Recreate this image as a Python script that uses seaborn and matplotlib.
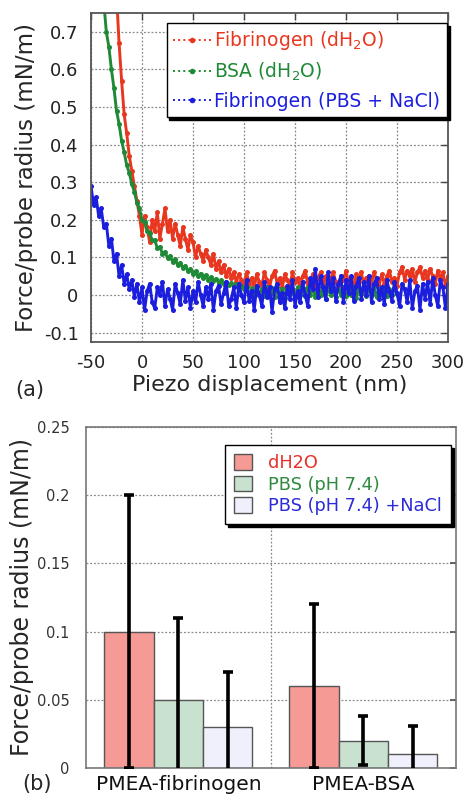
import numpy as np
import pandas as pd
import matplotlib
matplotlib.use("Agg")
import matplotlib.pyplot as plt
from matplotlib.ticker import MultipleLocator, FixedLocator, FuncFormatter
import seaborn as sns

# ---- (a) force curves (x step 2.5 nm) ----
step = 2.5

fib_water_y = [
    0.80, 0.67, 0.57, 0.48, 0.43, 0.37, 0.33, 0.29, 0.25, 0.21,
    0.16, 0.21, 0.18, 0.14, 0.20, 0.17, 0.22, 0.15, 0.19, 0.23,
    0.17, 0.20, 0.15, 0.19, 0.16, 0.13, 0.18, 0.15, 0.12, 0.16,
    0.14, 0.10, 0.13, 0.11, 0.09, 0.12, 0.10, 0.08, 0.11, 0.07,
    0.09, 0.06, 0.08, 0.05, 0.07, 0.045, 0.06, 0.035, 0.055, 0.04,
    0.03,
    0.06, 0.03, 0.045, 0.02, 0.055, 0.035, 0.025, 0.06, 0.04, 0.02,
    0.05, 0.065, 0.03, 0.045, 0.02, 0.055, 0.04, 0.025, 0.06, 0.035,
    0.045, 0.02, 0.05, 0.065, 0.03, 0.04, 0.055, 0.025, 0.045, 0.06,
    0.03, 0.05, 0.02, 0.045, 0.06, 0.035, 0.025, 0.05, 0.04, 0.065,
    0.03, 0.045, 0.02, 0.055, 0.035, 0.06, 0.025, 0.045, 0.05, 0.03,
    0.06, 0.04, 0.025, 0.055, 0.03, 0.05, 0.065, 0.035, 0.045, 0.025,
    0.06, 0.075, 0.04, 0.065, 0.05, 0.07, 0.035, 0.06, 0.075, 0.045,
    0.065, 0.04, 0.07, 0.05, 0.03, 0.065, 0.045, 0.06, 0.025, 0.05,
]
fib_water_start = -25

bsa_water_y = [
    0.78, 0.70, 0.66, 0.60, 0.55, 0.49, 0.455, 0.41, 0.38, 0.345,
    0.325, 0.295, 0.275, 0.245, 0.23, 0.20, 0.195, 0.17, 0.165, 0.145,
    0.145, 0.125, 0.128, 0.11, 0.115, 0.098, 0.104, 0.088, 0.095, 0.08,
    0.086, 0.072, 0.078, 0.064, 0.07, 0.057, 0.063, 0.051, 0.057, 0.046,
    0.052, 0.041, 0.047, 0.037, 0.043, 0.033, 0.039, 0.029, 0.035, 0.026,
    0.032, 0.022, 0.028, 0.02, 0.025, 0.017,
    0.02, 0.0, 0.018, -0.002, 0.02, 0.0, 0.016, -0.004, 0.02, 0.002,
    0.018, -0.005, 0.02, 0.0, 0.017, -0.008, 0.02, 0.002, 0.015, -0.005,
    0.02, 0.0, 0.018, -0.003, 0.02, 0.001, 0.016, -0.006, 0.022, 0.0,
    0.02, -0.01, 0.018, 0.0, 0.02, -0.005, 0.017, 0.001, 0.02, -0.004,
    0.018, 0.0, 0.02, -0.008, 0.016, 0.002, 0.02, -0.003, 0.018, 0.0,
    0.02, -0.005, 0.017, 0.001, 0.02, -0.004, 0.015, 0.0, 0.018, 0.002,
]
bsa_water_start = -37.5

fib_pbs_y = [
    0.29, 0.24, 0.26, 0.21, 0.23, 0.18, 0.19, 0.13, 0.15, 0.09,
    0.11, 0.05, 0.08, 0.03, 0.055, 0.015, 0.04, -0.005, 0.03, -0.02,
    0.02,
    -0.04, 0.01, 0.03, -0.02, -0.035, 0.02, 0.0, 0.035, -0.03, 0.015,
    -0.01, -0.04, 0.03, 0.005, -0.025, 0.04, -0.015, 0.02, -0.035, 0.01,
    -0.02, 0.035, 0.0, -0.03, 0.02, -0.01, 0.03, -0.04, 0.01, 0.025,
    -0.025, 0.005, 0.035, -0.03, -0.01, 0.02, -0.035, 0.03, 0.0, -0.02,
    0.04, -0.015, 0.01, -0.04, 0.025, 0.0, -0.03, 0.035, -0.005, 0.02,
    -0.045, 0.015, 0.03, -0.02, 0.005, -0.035, 0.025, -0.01, 0.04, -0.03,
    0.01, -0.02, 0.035, 0.0, -0.03, 0.045, 0.015, 0.07, -0.005, 0.05,
    0.02, -0.01, 0.06, 0.01, 0.045, -0.015, 0.03, 0.05, -0.02, 0.04,
    0.005, 0.05, -0.015, 0.025, 0.045, -0.01, 0.035, 0.0, 0.05, -0.02,
    0.03, 0.045, -0.01, 0.02, -0.025, 0.04, 0.01, -0.015, 0.035, 0.005,
    -0.03, 0.03, 0.015, -0.02, 0.04, -0.035, 0.01, 0.025, -0.04, 0.03,
    -0.01, 0.035, -0.025, 0.045, 0.0, -0.03, 0.04, 0.02, -0.035, 0.03,
]
fib_pbs_start = -50

curve_labels = ["Fibrinogen (dH$_2$O)", "BSA (dH$_2$O)", "Fibrinogen (PBS + NaCl)"]
curve_colors = ["#e8361f", "#1f8a36", "#1c1ede"]

# ---- (b) bar chart ----
samples = ["PMEA-fibrinogen", "PMEA-BSA"]
solutions = ["dH2O", "PBS (pH 7.4)", "PBS (pH 7.4) +NaCl"]
force_fib = [0.10, 0.05, 0.03]
force_bsa = [0.06, 0.02, 0.01]
err_fib = [0.10, 0.06, 0.04]
err_bsa = [0.06, 0.018, 0.021]
bar_colors = ["#f59a95", "#c9e2cf", "#eff0fb"]
bar_text_colors = ["#e8302a", "#2e8b40", "#2b2bd8"]

sns.set_theme(style="white")
plt.rcParams["font.family"] = ["DejaVu Sans"]
plt.rcParams["axes.unicode_minus"] = False

fig = plt.figure(figsize=(4.66, 7.96), dpi=100)
ax1 = fig.add_axes([0.1953, 0.5704, 0.7661, 0.4133])
ax2 = fig.add_axes([0.1845, 0.0352, 0.794, 0.4284])

grid_kw = dict(color="#8a8a8a", linestyle=(0, (1.5, 1.5)), linewidth=0.9)

# top panel
series = [(fib_water_start, fib_water_y), (bsa_water_start, bsa_water_y), (fib_pbs_start, fib_pbs_y)]
for (x0, ys), lab, col in zip(series, curve_labels, curve_colors):
    xs = x0 + step * np.arange(len(ys))
    sns.lineplot(x=xs, y=ys, sort=False, estimator=None, color=col, linestyle="-",
                 linewidth=2.1, marker="o", markersize=3.6, markeredgewidth=0,
                 label=lab, ax=ax1)

ax1.set_xlim(-50, 300)
ax1.set_ylim(-0.125, 0.75)
ax1.xaxis.set_major_locator(MultipleLocator(50))
ax1.yaxis.set_major_locator(FixedLocator([-0.1, 0, 0.1, 0.2, 0.3, 0.4, 0.5, 0.6, 0.7]))
ax1.yaxis.set_major_formatter(FuncFormatter(lambda v, p: "%g" % round(v, 2)))
ax1.grid(True, **grid_kw)
ax1.set_axisbelow(True)
ax1.tick_params(direction="in", length=5, width=1, top=True, right=True,
                labelsize=13, pad=9, colors="#444444", labelcolor="#222222")
ax1.set_xlabel("Piezo displacement (nm)", fontsize=16, labelpad=2)
ax1.set_ylabel("Force/probe radius (mN/m)", fontsize=16.5, labelpad=4)
for s in ax1.spines.values():
    s.set_color("#555555")
    s.set_linewidth(1.3)

leg1 = ax1.legend(loc="upper right", bbox_to_anchor=(0.997, 0.97), fontsize=13.5,
                  frameon=True, fancybox=False, edgecolor="black", framealpha=1,
                  shadow={"color": "black", "alpha": 1}, labelcolor=curve_colors,
                  handlelength=2.0, handletextpad=0.2, borderpad=0.35,
                  labelspacing=0.45, borderaxespad=0)
leg1.get_frame().set_linewidth(1)
for ln in leg1.get_lines():
    ln.set_linestyle(":")
    ln.set_linewidth(1.4)
    ln.set_markevery([1])
    ln.set_markersize(4)

# bottom panel
df = pd.DataFrame({
    "sample": [samples[0]] * 3 + [samples[1]] * 3,
    "solution": solutions * 2,
    "force": force_fib + force_bsa,
    "err": err_fib + err_bsa,
})
sns.barplot(data=df, x="sample", y="force", hue="solution", hue_order=solutions,
            palette=bar_colors, saturation=1, edgecolor="#555555", linewidth=1,
            errorbar=None, width=0.8, legend=False, ax=ax2)

for cont, sol in zip(ax2.containers, solutions):
    sub = df[df["solution"] == sol]
    xc = [b.get_x() + b.get_width() / 2 for b in cont]
    ax2.errorbar(xc, sub["force"], yerr=sub["err"], fmt="none", ecolor="black",
                 elinewidth=2.6, capsize=3.5, capthick=2.6, zorder=5)

ax2.set_xlim(-0.5, 1.5)
ax2.set_ylim(0, 0.25)
ax2.yaxis.set_major_locator(FixedLocator([0, 0.05, 0.1, 0.15, 0.2, 0.25]))
ax2.yaxis.set_major_formatter(FuncFormatter(lambda v, p: "%g" % round(v, 2)))
ax2.xaxis.set_minor_locator(FixedLocator([0.5]))
ax2.grid(True, axis="y", **grid_kw)
ax2.grid(True, axis="x", which="minor", **grid_kw)
ax2.set_axisbelow(True)
ax2.tick_params(axis="y", direction="in", length=4, right=True, labelsize=10.5,
                pad=12, colors="#555555", labelcolor="#333333")
ax2.tick_params(axis="x", which="both", length=0, labelsize=14.5, pad=5, labelcolor="#111111")
ax2.set_xlabel("")
ax2.set_ylabel("Force/probe radius (mN/m)", fontsize=17, labelpad=2)
for s in ax2.spines.values():
    s.set_color("#777777")
    s.set_linewidth(1.2)

leg2 = ax2.legend(ax2.containers, solutions, loc="upper right", bbox_to_anchor=(0.986, 0.947),
                  fontsize=12.8, frameon=True, fancybox=False, edgecolor="black", framealpha=1,
                  shadow={"color": "black", "alpha": 1}, labelcolor=bar_text_colors,
                  handlelength=1.0, handleheight=1.0, handletextpad=0.9,
                  borderpad=0.5, labelspacing=0.2, borderaxespad=0)
leg2.get_frame().set_linewidth(1)

fig.text(30 / 466, 1 - 390 / 796, "(a)", fontsize=15, ha="center", va="center")
fig.text(37 / 466, 1 - 784 / 796, "(b)", fontsize=15, ha="center", va="center")

fig.savefig("out.png", dpi=100)
plt.close(fig)
